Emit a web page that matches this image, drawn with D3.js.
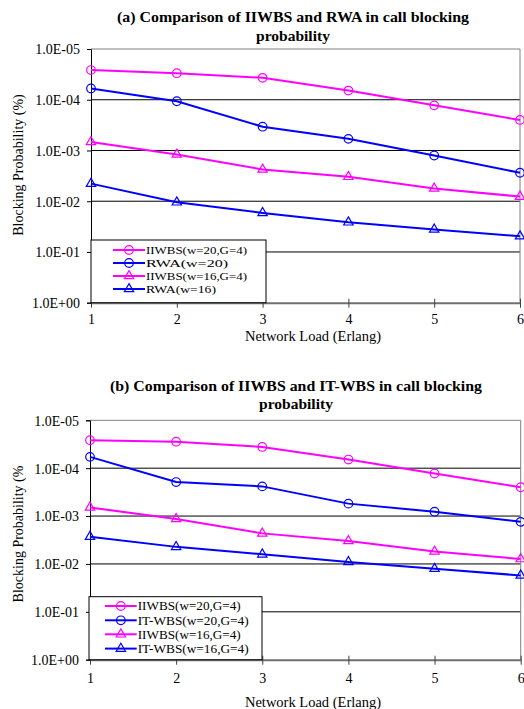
<!DOCTYPE html>
<html>
<head>
<meta charset="utf-8">
<script src="https://cdn.jsdelivr.net/npm/d3@7"></script>
<style>
  body { margin: 0; background: #fff; }
  svg text { font-family: "Liberation Serif", "Times New Roman", serif; fill: #000; }
</style>
</head>
<body>
<div id="chart"></div>
<script>
// x 軸：網路負載
const loads = [1, 2, 3, 4, 5, 6];

// y 軸刻度 (log, 反向)
const yTickValues = [1e-5, 1e-4, 1e-3, 1e-2, 1e-1, 1];
const yTickLabels = ["1.0E-05", "1.0E-04", "1.0E-03", "1.0E-02", "1.0E-01", "1.0E+00"];

// (a) IIWBS vs RWA
const aIiwbsW20 = [2.6e-5, 3.0e-5, 3.7e-5, 6.6e-5, 1.29e-4, 2.5e-4];
const aRwaW20   = [6.0e-5, 1.07e-4, 3.4e-4, 5.9e-4, 1.26e-3, 2.75e-3];
const aIiwbsW16 = [6.8e-4, 1.2e-3, 2.37e-3, 3.3e-3, 5.6e-3, 8.1e-3];
const aRwaW16   = [4.5e-3, 1.05e-2, 1.7e-2, 2.6e-2, 3.6e-2, 4.9e-2];
const aNames = ["IIWBS(w=20,G=4)", "RWA(w=20)", "IIWBS(w=16,G=4)", "RWA(w=16)"];

// (b) IIWBS vs IT-WBS
const bIiwbsW20 = [2.6e-5, 2.8e-5, 3.6e-5, 6.6e-5, 1.29e-4, 2.5e-4];
const bItwbsW20 = [5.8e-5, 1.95e-4, 2.4e-4, 5.5e-4, 8.1e-4, 1.32e-3];
const bIiwbsW16 = [6.6e-4, 1.15e-3, 2.3e-3, 3.3e-3, 5.5e-3, 7.9e-3];
const bItwbsW16 = [2.7e-3, 4.4e-3, 6.3e-3, 9.1e-3, 1.26e-2, 1.74e-2];
const bNames = ["IIWBS(w=20,G=4)", "IT-WBS(w=20,G=4)", "IIWBS(w=16,G=4)", "IT-WBS(w=16,G=4)"];

const MAGENTA = "#ff00ff";
const BLUE = "#0000ff";

const svg = d3.select("#chart").append("svg")
    .attr("width", 524)
    .attr("height", 709);

function drawPanel(cfg) {
    const { left, right, top, bottom } = cfg.box;
    const g = svg.append("g");

    const x = d3.scaleLinear().domain([1, 6]).range([left, right]);
    const y = d3.scaleLog().domain([1e-5, 1]).range([top, bottom]);

    // 標題
    cfg.title.forEach((t, i) => {
        const tt = g.append("text")
            .attr("x", cfg.titleX)
            .attr("y", cfg.titleY[i])
            .attr("text-anchor", "middle")
            .style("font-size", "15.5px")
            .style("font-weight", "bold")
            .text(t);
        if (i === 0) tt.attr("textLength", cfg.titleLen).attr("lengthAdjust", "spacingAndGlyphs");
    });

    // 格線
    g.selectAll(".grid")
        .data(yTickValues.slice(1, -1))
        .enter().append("line")
        .attr("x1", left).attr("x2", right)
        .attr("y1", d => y(d)).attr("y2", d => y(d))
        .attr("stroke", "#000").attr("stroke-width", 1);

    // 外框 (上、右)
    g.append("path")
        .attr("d", `M${left},${y(1e-5)}H${right}V${bottom}`)
        .attr("fill", "none")
        .attr("stroke", "#808080")
        .attr("stroke-width", 1);

    // Y 軸
    const yAxis = g.append("g")
        .attr("transform", `translate(${left},0)`)
        .call(d3.axisLeft(y).tickValues(yTickValues)
            .tickFormat((d, i) => yTickLabels[i]).tickSize(4).tickPadding(7));
    yAxis.select(".domain").attr("stroke", "#000");
    yAxis.selectAll("text")
        .style("font-size", "14px")
        .style("font-family", "Liberation Serif, serif")
        .attr("dy", "0.35em");

    // X 軸
    const xAxis = g.append("g")
        .attr("transform", `translate(0,${bottom})`)
        .call(d3.axisBottom(x).tickValues(loads).tickFormat(d3.format("d"))
            .tickSize(5).tickSizeOuter(0).tickPadding(cfg.xTickPad));
    xAxis.select(".domain").attr("stroke", "#707070").attr("stroke-width", 2);
    xAxis.selectAll(".tick line").attr("y1", -4).attr("stroke", "#404040");
    xAxis.selectAll("text")
        .style("font-size", "14px")
        .style("font-family", "Liberation Serif, serif");

    // 軸標題
    g.append("text")
        .attr("x", 313)
        .attr("y", cfg.xTitleY)
        .attr("text-anchor", "middle")
        .style("font-size", "14.5px")
        .text("Network Load (Erlang)");

    g.append("text")
        .attr("transform", `translate(23,${cfg.yTitleY}) rotate(-90)`)
        .attr("text-anchor", "middle")
        .style("font-size", "14px")
        .text(cfg.yTitle);

    // 折線與標記
    const line = d3.line().x((d, i) => x(loads[i])).y(d => y(d));
    const tri = d3.symbol().type(d3.symbolTriangle).size(38);

    cfg.series.forEach(s => {
        g.append("path")
            .datum(s.values)
            .attr("fill", "none")
            .attr("stroke", s.color)
            .attr("stroke-width", 2)
            .attr("d", line);

        const pts = g.selectAll(null)
            .data(s.values)
            .enter();
        if (s.marker === "circle") {
            pts.append("circle")
                .attr("cx", (d, i) => x(loads[i]))
                .attr("cy", d => y(d))
                .attr("r", 4.3)
                .attr("fill", "none")
                .attr("stroke", s.color)
                .attr("stroke-width", 1.2);
        } else {
            pts.append("path")
                .attr("d", tri)
                .attr("transform", (d, i) => `translate(${x(loads[i])},${y(d)})`)
                .attr("fill", "none")
                .attr("stroke", s.color)
                .attr("stroke-width", 1.2);
        }
    });

    // 圖例
    const L = cfg.legend;
    g.append("rect")
        .attr("x", L.x).attr("y", L.y)
        .attr("width", L.w).attr("height", L.h)
        .attr("fill", "#fff")
        .attr("stroke", "#000")
        .attr("stroke-width", 1);

    cfg.series.forEach((s, i) => {
        const ly = L.rowY[i];
        g.append("line")
            .attr("x1", L.lineX0).attr("x2", L.lineX1)
            .attr("y1", ly).attr("y2", ly)
            .attr("stroke", s.color).attr("stroke-width", 2);
        const mx = (L.lineX0 + L.lineX1) / 2;
        if (s.marker === "circle") {
            g.append("circle")
                .attr("cx", mx).attr("cy", ly).attr("r", 4.3)
                .attr("fill", "none").attr("stroke", s.color).attr("stroke-width", 1.2);
        } else {
            g.append("path")
                .attr("d", tri)
                .attr("transform", `translate(${mx},${ly})`)
                .attr("fill", "none").attr("stroke", s.color).attr("stroke-width", 1.2);
        }
        g.append("text")
            .attr("x", L.lineX1 + 1)
            .attr("y", ly)
            .attr("dy", "0.35em")
            .style("font-size", L.fontSize)
            .attr("textLength", L.textLen[i])
            .attr("lengthAdjust", "spacingAndGlyphs")
            .text(s.name);
    });
}

drawPanel({
    box: { left: 91, right: 520, top: 49, bottom: 302.7 },
    title: ["(a) Comparison of IIWBS and RWA in call blocking", "probability"],
    titleX: 293,
    titleLen: 352,
    titleY: [22, 40.5],
    xTickPad: 6.5,
    xTitleY: 340.8,
    yTitle: "Blocking Probability (%)",
    yTitleY: 165,
    series: [
        { name: aNames[0], values: aIiwbsW20, color: MAGENTA, marker: "circle" },
        { name: aNames[1], values: aRwaW20, color: BLUE, marker: "circle" },
        { name: aNames[2], values: aIiwbsW16, color: MAGENTA, marker: "triangle" },
        { name: aNames[3], values: aRwaW16, color: BLUE, marker: "triangle" }
    ],
    legend: { x: 91, y: 240, w: 175, h: 62.7, lineX0: 113, lineX1: 145,
              rowY: [250, 263, 276, 289], fontSize: "11px",
              textLen: [101, 82, 101, 70] }
});

drawPanel({
    box: { left: 90, right: 520.7, top: 420.3, bottom: 659.7 },
    title: ["(b) Comparison of IIWBS and IT-WBS in call blocking", "probability"],
    titleX: 296,
    titleLen: 372,
    titleY: [390.5, 409],
    xTickPad: 8.5,
    xTitleY: 706.5,
    yTitle: "Blocking Probability (%",
    yTitleY: 534,
    series: [
        { name: bNames[0], values: bIiwbsW20, color: MAGENTA, marker: "circle" },
        { name: bNames[1], values: bItwbsW20, color: BLUE, marker: "circle" },
        { name: bNames[2], values: bIiwbsW16, color: MAGENTA, marker: "triangle" },
        { name: bNames[3], values: bItwbsW16, color: BLUE, marker: "triangle" }
    ],
    legend: { x: 89, y: 596.7, w: 173, h: 63, lineX0: 105, lineX1: 136.7,
              rowY: [606, 620.3, 634.3, 648.6], fontSize: "12px",
              textLen: [103, 111, 103, 111] }
});
</script>
</body>
</html>
